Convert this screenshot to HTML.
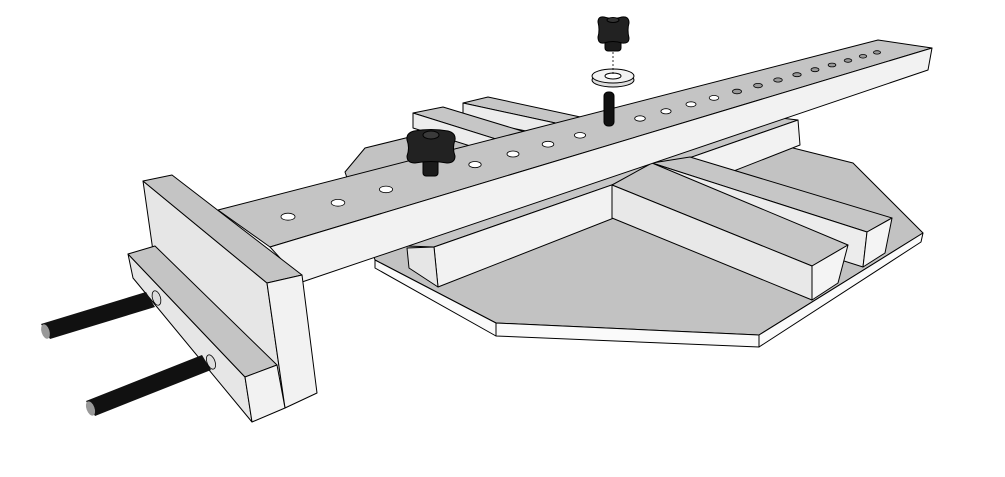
<!DOCTYPE html>
<html><head><meta charset="utf-8"><style>html,body{margin:0;padding:0;background:#fff}svg{display:block}</style></head>
<body>
<svg width="1005" height="477" viewBox="0 0 1005 477" xmlns="http://www.w3.org/2000/svg" stroke="#000" stroke-width="1" stroke-linejoin="round">
<!-- base plate -->
<polygon points="365,148 430,132 793,148 853,163 923,233 759,335 496,323 375,260 345,172" fill="#c2c2c2"/>
<polygon points="375,260 496,323 496,336 375,268" fill="#fafafa"/>
<polygon points="496,323 759,335 759,347 496,336" fill="#fafafa"/>
<polygon points="759,335 923,233 921,242 759,347" fill="#fafafa"/>
<!-- back rails A,B -->
<polygon points="463,103 488,97 585,118 560,124" fill="#c6c6c6"/>
<polygon points="463,103 560,124 560,138 463,118" fill="#ececec"/>
<polygon points="413,113 443,107 545,138 515,145" fill="#c6c6c6"/>
<polygon points="413,113 515,145 515,160 413,128" fill="#ececec"/>
<!-- left long rail -->
<polygon points="407,246 772,117 798,120 434,247" fill="#c6c6c6"/>
<polygon points="434,247 798,120 800,145 438,287" fill="#f2f2f2"/>
<polygon points="407,248 434,247 438,287 409,268" fill="#e6e6e6"/>
<!-- rail D -->
<polygon points="652,163 690,157 892,218 867,232" fill="#c6c6c6"/>
<polygon points="652,163 867,232 863,267 652,200" fill="#ececec"/>
<polygon points="867,232 892,218 885,253 863,267" fill="#f4f4f4"/>
<!-- rail C -->
<polygon points="612,185 652,163 848,245 812,266" fill="#c6c6c6"/>
<polygon points="612,185 812,266 812,300 612,218" fill="#e8e8e8"/>
<polygon points="812,266 848,245 838,283 812,300" fill="#f4f4f4"/>
<!-- bar -->
<polygon points="218,210 878,40 932,48 270,247" fill="#c4c4c4"/>
<polygon points="270,247 932,48 928,70 302,282" fill="#f2f2f2"/>
<!-- holes -->
<g fill="#fff" stroke-width="0.8">
<ellipse cx="288" cy="216.7" rx="7" ry="3.5"/><ellipse cx="338" cy="202.8" rx="6.8" ry="3.4"/><ellipse cx="386" cy="189.4" rx="6.6" ry="3.3"/>
<ellipse cx="475" cy="164.6" rx="6.2" ry="3.1"/><ellipse cx="513" cy="154" rx="6" ry="3"/><ellipse cx="548" cy="144.2" rx="5.8" ry="2.9"/><ellipse cx="580" cy="135.3" rx="5.6" ry="2.8"/>
<ellipse cx="640" cy="118.5" rx="5.3" ry="2.7"/><ellipse cx="666" cy="111.3" rx="5.1" ry="2.6"/><ellipse cx="691" cy="104.3" rx="5" ry="2.5"/><ellipse cx="714" cy="97.9" rx="4.8" ry="2.4"/>
</g>
<g fill="#999" stroke-width="0.8">
<ellipse cx="737" cy="91.5" rx="4.6" ry="2.3"/><ellipse cx="758" cy="85.6" rx="4.4" ry="2.2"/><ellipse cx="778" cy="80" rx="4.3" ry="2.1"/><ellipse cx="797" cy="74.7" rx="4.2" ry="2"/>
<ellipse cx="815" cy="69.7" rx="4" ry="2"/><ellipse cx="832" cy="65" rx="3.9" ry="1.9"/><ellipse cx="848" cy="60.5" rx="3.8" ry="1.8"/><ellipse cx="863" cy="56.3" rx="3.7" ry="1.8"/><ellipse cx="877" cy="52.4" rx="3.6" ry="1.7"/>
</g>
<!-- pin -->
<rect x="604" y="92" width="10" height="34" rx="4" fill="#111"/>
<!-- washer -->
<ellipse cx="613" cy="80" rx="21" ry="7" fill="#ddd"/>
<ellipse cx="613" cy="76" rx="21" ry="7" fill="#f2f2f2"/>
<ellipse cx="613" cy="76" rx="8" ry="3" fill="#fff"/>
<line x1="613" y1="52" x2="613" y2="76" stroke-dasharray="2,2" stroke-width="0.8"/>
<!-- top knob -->
<rect x="605" y="36" width="16" height="15" rx="3" fill="#1b1b1b"/>
<path d="M598,22 Q598,16 604,17 Q613,20 622,17 Q629,16 629,23 Q627,30 629,38 Q629,44 622,43 Q613,40 604,43 Q598,44 598,37 Q600,30 598,22Z" fill="#222"/>
<ellipse cx="613" cy="20" rx="6" ry="2.5" fill="#333"/>
<!-- knob on bar -->
<rect x="423" y="156" width="15" height="20" rx="3" fill="#1b1b1b"/>
<path d="M407,140 Q406,133 414,131 Q431,128 448,131 Q456,133 455,140 Q452,148 455,156 Q455,163 447,163 Q431,160 415,163 Q407,163 407,156 Q410,148 407,140Z" fill="#222"/>
<ellipse cx="431" cy="135" rx="8" ry="4" fill="#3a3a3a"/>
<!-- fence board -->
<polygon points="143,181 267,283 285,408 160,300" fill="#e6e6e6"/>
<polygon points="143,181 172,175 302,275 267,283" fill="#c4c4c4"/>
<polygon points="267,283 302,275 317,393 285,408" fill="#f2f2f2"/>
<!-- lower block -->
<polygon points="128,254 245,377 252,422 133,278" fill="#e6e6e6"/>
<polygon points="128,254 155,246 277,365 245,377" fill="#c4c4c4"/>
<polygon points="245,377 277,365 285,408 252,422" fill="#f2f2f2"/>
<!-- rods -->
<g stroke="none">
<polygon points="146,292 155,307 50,339 41,324" fill="#111"/>
<ellipse cx="45.5" cy="331.5" rx="4" ry="7.5" fill="#999" transform="rotate(-17 45.5 331.5)"/>
<ellipse cx="156.5" cy="298" rx="4" ry="7.5" fill="#ddd" stroke="#000" stroke-width="0.8" transform="rotate(-17 156.5 298)"/>
<polygon points="202,355 211,370 95,416 86,401" fill="#111"/>
<ellipse cx="90.5" cy="408.5" rx="4" ry="7.5" fill="#999" transform="rotate(-21 90.5 408.5)"/>
<ellipse cx="211" cy="362" rx="4" ry="7.5" fill="#ddd" stroke="#000" stroke-width="0.8" transform="rotate(-21 211 362)"/>
</g>
</svg>
</body></html>
